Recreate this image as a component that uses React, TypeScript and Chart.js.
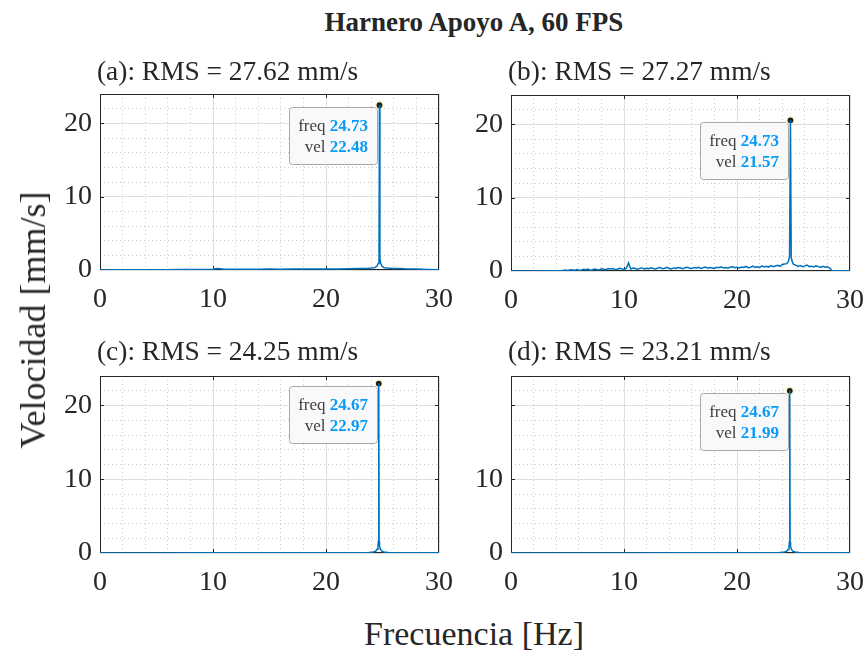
import React, { useEffect, useRef } from 'react';
import { Chart, registerables } from 'chart.js';

Chart.register(...registerables);

// ---------- data ----------
const freqA = [0, 1, 2, 3, 4, 5, 6, 7, 8, 9, 10, 10.4, 11, 12, 13, 14, 15, 16, 17, 18, 19, 20, 21, 22, 23, 23.6, 24.0, 24.3, 24.5, 24.62, 24.69, 24.73, 24.77, 24.84, 24.96, 25.15, 25.45, 25.9, 26.5, 27, 28, 29, 30];
const velA = [0.01, 0.02, 0.02, 0.03, 0.04, 0.05, 0.05, 0.06, 0.07, 0.08, 0.1, 0.22, 0.1, 0.09, 0.1, 0.11, 0.12, 0.11, 0.13, 0.12, 0.14, 0.15, 0.14, 0.17, 0.2, 0.22, 0.26, 0.32, 0.5, 0.9, 1.6, 22.48, 1.6, 0.9, 0.5, 0.32, 0.26, 0.22, 0.2, 0.16, 0.12, 0.08, 0.05];

const freqB = [0, 2, 4,
  4.4, 4.6, 4.8, 5.0, 5.2, 5.4, 5.6, 5.8, 6.0, 6.2,
  6.4, 6.6, 6.8, 7.0, 7.2, 7.4, 7.6, 7.8, 8.0, 8.2,
  8.4, 8.6, 8.8, 9.0, 9.2, 9.4, 9.6, 9.8, 10.0, 10.2,
  10.4, 10.6, 10.8, 11.0, 11.2, 11.4, 11.6, 11.8, 12.0, 12.2,
  12.4, 12.6, 12.8, 13.0, 13.2, 13.4, 13.6, 13.8, 14.0, 14.2,
  14.4, 14.6, 14.8, 15.0, 15.2, 15.4, 15.6, 15.8, 16.0, 16.2,
  16.4, 16.6, 16.8, 17.0, 17.2, 17.4, 17.6, 17.8, 18.0, 18.2,
  18.4, 18.6, 18.8, 19.0, 19.2, 19.4, 19.6, 19.8, 20.0, 20.2,
  20.4, 20.6, 20.8, 21.0, 21.2, 21.4, 21.6, 21.8, 22.0, 22.2,
  22.4, 22.6, 22.8, 23.0, 23.2, 23.4, 23.6, 23.8, 24.0, 24.2,
  24.4, 24.55, 24.65, 24.73, 24.8, 24.9, 25.0, 25.2, 25.4, 25.6,
  25.8, 26.0, 26.2, 26.4, 26.6, 26.8, 27.0, 27.2, 27.4, 27.6,
  27.8, 28.0, 28.2, 28.4, 28.6, 30];
const velB = [0.01, 0.01, 0.02,
  0.03, 0.08, 0.12, 0.06, 0.15, 0.18, 0.09, 0.2, 0.14, 0.1,
  0.22, 0.16, 0.25, 0.12, 0.18, 0.28, 0.2, 0.15, 0.3, 0.24,
  0.18, 0.32, 0.26, 0.35, 0.2, 0.24, 0.38, 0.3, 0.22, 0.34,
  1.1, 0.28, 0.4, 0.33, 0.25, 0.36, 0.42, 0.27, 0.38, 0.3,
  0.44, 0.35, 0.28, 0.4, 0.46, 0.32, 0.38, 0.5, 0.34, 0.29,
  0.42, 0.36, 0.48, 0.4, 0.31, 0.45, 0.52, 0.37, 0.33, 0.46,
  0.4, 0.5, 0.35, 0.44, 0.54, 0.38, 0.47, 0.42, 0.36, 0.5,
  0.45, 0.56, 0.4, 0.48, 0.38, 0.52, 0.6, 0.44, 0.5, 0.42,
  0.55, 0.48, 0.62, 0.45, 0.52, 0.66, 0.5, 0.58, 0.47, 0.7,
  0.55, 0.64, 0.52, 0.74, 0.6, 0.68, 0.78, 0.62, 0.85, 0.95,
  1.0, 1.3, 2.0, 20.55, 1.8, 1.2, 0.9, 0.8, 0.62, 0.75,
  0.58, 0.7, 0.82, 0.6, 0.66, 0.55, 0.72, 0.6, 0.5, 0.64,
  0.52, 0.58, 0.4, 0.08, 0.03, 0.02];

const freqC = [0, 5, 10, 15, 20, 23, 23.8, 24.2, 24.4, 24.52, 24.6, 24.64, 24.67, 24.7, 24.74, 24.82, 24.94, 25.14, 25.5, 26.3, 30];
const velC = [0.01, 0.01, 0.02, 0.02, 0.03, 0.05, 0.08, 0.14, 0.25, 0.5, 0.9, 1.6, 22.97, 1.6, 0.9, 0.5, 0.25, 0.14, 0.08, 0.05, 0.02];

const freqD = [0, 5, 10, 15, 20, 23, 23.8, 24.2, 24.4, 24.52, 24.6, 24.64, 24.67, 24.7, 24.74, 24.82, 24.94, 25.14, 25.5, 26.3, 30];
const velD = [0.01, 0.01, 0.01, 0.02, 0.02, 0.04, 0.07, 0.13, 0.24, 0.48, 0.85, 1.5, 21.99, 1.5, 0.85, 0.48, 0.24, 0.13, 0.07, 0.04, 0.02];

const panelTitles = ['(a): RMS = 27.62 mm/s', '(b): RMS = 27.27 mm/s', '(c): RMS = 24.25 mm/s', '(d): RMS = 23.21 mm/s'];
const tipFreq = ['24.73', '24.73', '24.67', '24.67'];
const tipVel = ['22.48', '21.57', '22.97', '21.99'];

const xTickValues = [0, 2, 4, 6, 8, 10, 12, 14, 16, 18, 20, 22, 24, 26, 28, 30];
const yTickValues = [0, 2, 4, 6, 8, 10, 12, 14, 16, 18, 20, 22, 24];
const xLabelValues = [0, 10, 20, 30];
const yLabelValues = [[0, 10, 20], [0, 10, 20], [0, 10, 20], [0, 10]];
const X_MAX = 30;
const Y_MAX = 24;

const mainTitle = 'Harnero Apoyo A, 60 FPS';
const xAxisTitle = 'Frecuencia [Hz]';
const yAxisTitle = 'Velocidad [mm/s]';

// ---------- style ----------
const SERIF = "'Liberation Serif', 'Times New Roman', Times, serif";
const LINE_COLOR = '#0072BD';
const AXIS_COLOR = '#262626';
const MAJOR_GRID = '#dedede';
const MINOR_GRID = '#c9c9c9';

const Y_AXIS_W = 60;
const X_AXIS_H = 60;
const PAD_TOP = 34;
const PAD_RIGHT = 27;
const PLOT_W = 339;

type PanelProps = { freq: number[]; vel: number[]; idx: number; left: number; top: number; plotH: number };

function Panel({ freq, vel, idx, left, top, plotH }: PanelProps) {
  const ref = useRef<HTMLCanvasElement | null>(null);
  const width = Y_AXIS_W + PLOT_W + PAD_RIGHT;
  const height = PAD_TOP + plotH + X_AXIS_H;

  useEffect(() => {
    const canvas = ref.current;
    if (!canvas) return;
    let pk = 0;
    vel.forEach((v, i) => { if (v > vel[pk]) pk = i; });

    const framePlugin = {
      id: 'frameTip' + idx,
      beforeDatasetsDraw(chart: any) {
        const { ctx, chartArea: a } = chart;
        const xs = chart.scales.x;
        const ys = chart.scales.y;
        ctx.save();
        ctx.strokeStyle = AXIS_COLOR;
        ctx.lineWidth = 1;
        ctx.strokeRect(a.left + 0.5, a.top + 0.5, a.right - a.left - 1, a.bottom - a.top - 1);
        const tl = 4;
        ctx.beginPath();
        xLabelValues.forEach((v) => {
          if (v <= 0 || v >= X_MAX) return;
          const px = Math.round(xs.getPixelForValue(v)) + 0.5;
          ctx.moveTo(px, a.bottom); ctx.lineTo(px, a.bottom - tl);
          ctx.moveTo(px, a.top); ctx.lineTo(px, a.top + tl);
        });
        [10, 20].forEach((v) => {
          const py = Math.round(ys.getPixelForValue(v)) + 0.5;
          ctx.moveTo(a.left, py); ctx.lineTo(a.left + tl, py);
          ctx.moveTo(a.right, py); ctx.lineTo(a.right - tl, py);
        });
        ctx.stroke();

        // data tip
        const pt = chart.getDatasetMeta(1).data[0];
        if (pt) {
          const fs = 17;
          const fontN = `${fs}px ${SERIF}`;
          const fontB = `bold ${fs}px ${SERIF}`;
          const lines = [['freq', tipFreq[idx]], ['vel', tipVel[idx]]];
          let maxW = 0;
          const ws = lines.map(([l, v]) => {
            ctx.font = fontN; const w1 = ctx.measureText(l + ' ').width;
            ctx.font = fontB; const w2 = ctx.measureText(v).width;
            maxW = Math.max(maxW, w1 + w2);
            return [w1, w2];
          });
          const padX = 9;
          const w = Math.round(maxW + 2 * padX);
          const h = 57;
          const right = Math.round(pt.x) - 2;
          const boxTop = Math.round(pt.y) + 2;
          const bl = right - w;
          ctx.beginPath();
          (ctx as any).roundRect(bl + 0.5, boxTop + 0.5, w, h, 3);
          ctx.fillStyle = '#f9f9fc';
          ctx.fill();
          ctx.strokeStyle = '#a8a8a8';
          ctx.lineWidth = 1;
          ctx.stroke();
          ctx.textBaseline = 'middle';
          ctx.textAlign = 'right';
          lines.forEach(([l, v], i) => {
            const y = boxTop + 20 + i * 21;
            ctx.font = fontB; ctx.fillStyle = '#0a9bf5';
            ctx.fillText(v, right - padX, y);
            ctx.font = fontN; ctx.fillStyle = '#404040';
            ctx.fillText(l + ' ', right - padX - ws[i][1], y);
          });
        }
        ctx.restore();
      },
    };

    const isMajor = (v: number) => Math.abs(v % 10) < 1e-9;

    const chart = new Chart(canvas, {
      type: 'line',
      data: {
        datasets: [
          {
            data: freq.map((f, i) => ({ x: f, y: vel[i] })),
            borderColor: LINE_COLOR,
            borderWidth: 1.5,
            pointRadius: 0,
            tension: 0,
            fill: false,
          },
          {
            data: [{ x: freq[pk], y: vel[pk] }],
            showLine: false,
            pointRadius: 3.5,
            pointBackgroundColor: '#1e1e1e',
            pointBorderColor: '#fff6bf',
            pointBorderWidth: 1.2,
          },
        ],
      },
      plugins: [framePlugin],
      options: {
        animation: false,
        responsive: false,
        devicePixelRatio: 1,
        events: [],
        layout: { padding: { top: PAD_TOP, right: PAD_RIGHT, left: 0, bottom: 0 } },
        plugins: { legend: { display: false }, tooltip: { enabled: false }, title: { display: false } },
        scales: {
          x: {
            type: 'linear',
            min: 0,
            max: X_MAX,
            afterFit: (s: any) => { s.height = X_AXIS_H; },
            afterBuildTicks: (s: any) => { s.ticks = xTickValues.map((v) => ({ value: v })); },
            ticks: {
              autoSkip: false,
              maxRotation: 0,
              padding: 13,
              color: AXIS_COLOR,
              font: { family: SERIF, size: 28 },
              callback: (v: any) => (xLabelValues.includes(Number(v)) ? String(v) : ''),
            },
            grid: {
              drawTicks: false,
              color: (c: any) => (c.tick && isMajor(c.tick.value) ? MAJOR_GRID : MINOR_GRID),
              lineWidth: 1,
            },
            border: {
              display: false,
              dash: (c: any) => (c.tick && !isMajor(c.tick.value) ? [1, 3] : []),
            },
          },
          y: {
            type: 'linear',
            min: 0,
            max: Y_MAX,
            afterFit: (s: any) => { s.width = Y_AXIS_W; },
            afterBuildTicks: (s: any) => { s.ticks = yTickValues.map((v) => ({ value: v })); },
            ticks: {
              autoSkip: false,
              padding: 8,
              color: AXIS_COLOR,
              font: { family: SERIF, size: 28 },
              callback: (v: any) => (yLabelValues[idx].includes(Number(v)) ? String(v) : ''),
            },
            grid: {
              drawTicks: false,
              color: (c: any) => (c.tick && isMajor(c.tick.value) ? MAJOR_GRID : MINOR_GRID),
              lineWidth: 1,
            },
            border: {
              display: false,
              dash: (c: any) => (c.tick && !isMajor(c.tick.value) ? [1, 3] : []),
            },
          },
        },
      } as any,
    });
    return () => chart.destroy();
  }, [freq, vel, idx]);

  return (
    <canvas
      ref={ref}
      width={width}
      height={height}
      style={{ position: 'absolute', left, top, width, height }}
    />
  );
}

const textBase: React.CSSProperties = {
  position: 'absolute',
  fontFamily: SERIF,
  color: AXIS_COLOR,
  lineHeight: 1,
  whiteSpace: 'nowrap',
  margin: 0,
};

export default function App() {
  const panels = [
    { freq: freqA, vel: velA, left: 40, top: 60, plotH: 176, tx: 97, ty: 58 },
    { freq: freqB, vel: velB, left: 451, top: 61, plotH: 176, tx: 508, ty: 58 },
    { freq: freqC, vel: velC, left: 40, top: 342, plotH: 177, tx: 97, ty: 338 },
    { freq: freqD, vel: velD, left: 451, top: 342, plotH: 177, tx: 508, ty: 338 },
  ];
  return (
    <div style={{ position: 'absolute', left: 0, top: 0, width: 868, height: 652, background: '#fff', overflow: 'hidden' }}>
      <div style={{ ...textBase, left: 474, top: 9, fontSize: 27, fontWeight: 'bold', transform: 'translateX(-50%)' }}>{mainTitle}</div>
      {panels.map((p, i) => (
        <React.Fragment key={i}>
          <Panel freq={p.freq} vel={p.vel} idx={i} left={p.left} top={p.top} plotH={p.plotH} />
          <div style={{ ...textBase, left: p.tx, top: p.ty, fontSize: 27.4 }}>{panelTitles[i]}</div>
        </React.Fragment>
      ))}
      <div style={{ ...textBase, left: 474, top: 617, fontSize: 34, transform: 'translateX(-50%)' }}>{xAxisTitle}</div>
      <div style={{ ...textBase, left: 33, top: 320, fontSize: 36, transform: 'translate(-50%, -50%) rotate(-90deg)' }}>{yAxisTitle}</div>
    </div>
  );
}
